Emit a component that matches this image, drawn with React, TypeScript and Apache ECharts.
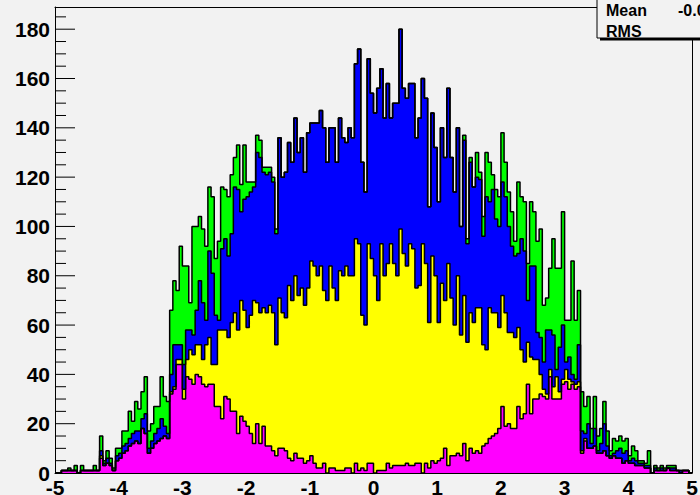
import React, { useEffect, useRef } from "react";
import * as echarts from "echarts";

// Histogram binning: 200 bins over [-5, 5]
const X_MIN = -5;
const X_MAX = 5;
const N_BINS = 200;

// Bin contents of the four stacked histograms (10 bins per row)
const magenta = [
  0, 0, 1, 1, 1, 1, 1, 0, 1, 1,
  1, 1, 1, 1, 6, 3, 4, 3, 1, 5,
  6, 8, 9, 11, 12, 13, 12, 18, 16, 8,
  10, 12, 13, 14, 15, 14, 32, 34, 44, 44,
  30, 39, 38, 36, 40, 39, 36, 35, 36, 36,
  27, 27, 22, 31, 30, 25, 25, 16, 23, 21,
  19, 16, 12, 20, 12, 19, 11, 11, 9, 7,
  10, 10, 9, 6, 5, 8, 6, 6, 4, 5,
  7, 4, 2, 2, 4, 0, 2, 2, 1, 1,
  1, 2, 2, 0, 4, 1, 2, 1, 4, 4,
  0, 1, 1, 1, 4, 2, 3, 3, 3, 3,
  4, 3, 3, 4, 4, 0, 4, 2, 5, 4,
  5, 6, 10, 3, 7, 7, 8, 7, 12, 5,
  10, 8, 9, 8, 11, 12, 14, 15, 16, 18,
  27, 19, 20, 18, 18, 27, 22, 24, 36, 24,
  30, 30, 32, 31, 30, 39, 30, 30, 30, 36,
  37, 34, 36, 34, 35, 8, 13, 10, 10, 11,
  8, 8, 9, 7, 6, 7, 6, 6, 4, 5,
  4, 4, 3, 3, 3, 2, 2, 0, 1, 1,
  1, 1, 2, 1, 1, 1, 0, 1, 1, 0,
];

const yellow = [
  0, 0, 0, 0, 0, 0, 0, 0, 0, 0,
  0, 0, 0, 0, 1, 0, 0, 0, 0, 0,
  0, 0, 0, 0, 0, 0, 0, 0, 0, 0,
  0, 0, 0, 0, 0, 0, 1, 1, 2, 2,
  4, 7, 12, 12, 12, 13, 10, 17, 19, 8,
  17, 31, 36, 27, 25, 36, 40, 42, 47, 45,
  40, 48, 58, 49, 53, 48, 54, 57, 56, 45,
  61, 55, 54, 70, 65, 72, 66, 69, 64, 70,
  79, 80, 78, 82, 70, 70, 82, 73, 69, 81,
  79, 82, 78, 80, 91, 92, 62, 59, 89, 83,
  80, 69, 92, 79, 81, 91, 82, 77, 96, 86,
  80, 90, 88, 71, 72, 93, 81, 59, 83, 76,
  56, 71, 60, 82, 64, 53, 72, 49, 60, 48,
  55, 53, 58, 59, 41, 38, 53, 50, 49, 41,
  45, 46, 37, 39, 37, 32, 28, 21, 17, 23,
  16, 16, 8, 3, 2, 3, 5, 9, 3, 2,
  5, 4, 1, 2, 2, 1, 1, 0, 0, 0,
  0, 0, 0, 0, 0, 0, 0, 0, 0, 0,
  0, 0, 0, 0, 0, 0, 0, 0, 0, 0,
  0, 0, 0, 0, 0, 0, 0, 0, 0, 0,
];

const blue = [
  0, 0, 0, 0, 0, 0, 0, 0, 0, 0,
  0, 0, 0, 0, 2, 1, 2, 1, 0, 2,
  2, 3, 3, 3, 4, 4, 5, 4, 8, 2,
  3, 4, 5, 8, 4, 2, 7, 17, 6, 6,
  10, 12, 8, 8, 14, 26, 23, 10, 35, 37,
  20, 4, 33, 37, 33, 36, 51, 57, 36, 45,
  53, 50, 46, 61, 63, 55, 56, 54, 53, 45,
  65, 55, 59, 58, 56, 64, 58, 61, 54, 63,
  56, 58, 62, 63, 66, 56, 56, 65, 56, 62,
  56, 50, 60, 56, 71, 79, 62, 54, 75, 67,
  66, 86, 71, 64, 73, 51, 65, 70, 81, 67,
  68, 65, 67, 61, 68, 67, 67, 47, 58, 52,
  49, 63, 58, 71, 57, 54, 60, 44, 63, 40,
  61, 55, 53, 52, 44, 62, 43, 50, 38, 41,
  46, 47, 43, 35, 33, 30, 45, 45, 17, 37,
  38, 11, 15, 11, 26, 16, 21, 3, 18, 22,
  3, 9, 3, 2, 15, 8, 2, 10, 2, 7,
  1, 4, 11, 4, 1, 1, 3, 4, 4, 4,
  1, 2, 2, 1, 1, 1, 1, 0, 1, 0,
  1, 0, 0, 1, 1, 0, 1, 0, 0, 0,
];

const green = [
  0, 0, 0, 0, 1, 0, 2, 0, 2, 0,
  0, 0, 2, 0, 6, 1, 3, 2, 1, 3,
  2, 6, 5, 11, 5, 12, 9, 11, 15, 7,
  7, 11, 9, 17, 12, 13, 26, 26, 22, 40,
  40, 26, 11, 44, 34, 26, 30, 30, 26, 31,
  23, 32, 25, 20, 24, 24, 12, 18, 11, 22,
  6, 4, 2, 7, 7, 2, 3, 2, 2, 2,
  0, 0, 0, 0, 0, 0, 0, 0, 0, 0,
  0, 0, 0, 0, 0, 0, 0, 0, 0, 0,
  0, 0, 0, 0, 0, 0, 0, 0, 0, 0,
  0, 0, 0, 0, 0, 0, 0, 0, 0, 0,
  0, 0, 0, 0, 0, 0, 0, 0, 0, 0,
  0, 0, 0, 0, 0, 0, 0, 0, 2, 2,
  2, 0, 10, 3, 8, 18, 16, 6, 12, 12,
  20, 14, 14, 14, 6, 29, 17, 20, 15, 26,
  22, 37, 44, 23, 13, 25, 39, 41, 32, 46,
  17, 15, 46, 24, 22, 16, 11, 11, 6, 13,
  6, 6, 9, 6, 2, 6, 4, 5, 5, 5,
  2, 5, 4, 1, 1, 1, 6, 0, 1, 1,
  1, 1, 1, 1, 1, 0, 0, 0, 0, 0,
];

// Stack order (bottom to top) and fill colours
const histograms = [magenta, yellow, blue, green];
const fillColors = ["#ff00ff", "#ffff00", "#0000ff", "#00ff00"];

// Y axis: range, labelled step and minor step
const Y_MAX = 189;
const Y_MAJOR = 20;
const Y_MINOR = 5;
const Y_LAST_LABEL = 180;

// Stats box entries
const statNames = ["Mean", "RMS"];
const meanText = "-0.01165";

const FONT = "'Liberation Sans', Arial, Helvetica, sans-serif";
const MAJOR_TICK_LEN = 20;
const MINOR_TICK_LEN = 11;

export default function App() {
  const ref = useRef<HTMLDivElement>(null);

  useEffect(() => {
    if (!ref.current) return;
    const chart = echarts.init(ref.current, undefined, { renderer: "svg" });

    const binWidth = (X_MAX - X_MIN) / N_BINS;

    // cumulative sums, as a THStack draws them
    const cumulative: number[][] = [];
    let running = new Array(N_BINS).fill(0);
    histograms.forEach((h) => {
      running = running.map((v, i) => v + h[i]);
      cumulative.push(running);
    });

    // one point per lower bin edge, plus the upper edge of the last bin
    const toSteps = (vals: number[]) => {
      const pts = vals.map((v, i) => [X_MIN + i * binWidth, v]);
      pts.push([X_MAX, vals[N_BINS - 1]]);
      return pts;
    };

    // largest sum first, each smaller sum painted over it
    const histSeries = [3, 2, 1, 0].map((k) => ({
      type: "line",
      step: "end",
      data: toSteps(cumulative[k]),
      symbol: "none",
      showSymbol: false,
      silent: true,
      lineStyle: { color: "#000", width: 1.5 },
      areaStyle: { color: fillColors[k], opacity: 1 },
      z: 2,
    }));

    // inward y-axis tick marks (major every 20, minor every 5)
    const tickData: number[][] = [];
    for (let v = 0; v <= Y_MAX; v += Y_MINOR) {
      tickData.push([X_MIN, v, v % Y_MAJOR === 0 ? MAJOR_TICK_LEN : MINOR_TICK_LEN]);
    }
    const tickSeries = {
      type: "custom",
      silent: true,
      z: 1,
      clip: false,
      data: tickData,
      renderItem: (_params: any, api: any) => {
        const p = api.coord([api.value(0), api.value(1)]);
        const len = api.value(2);
        return {
          type: "line",
          shape: { x1: p[0], y1: p[1], x2: p[0] + len, y2: p[1] },
          style: { stroke: "#000", lineWidth: 1 },
        };
      },
    };

    const labelStyle = {
      color: "#000",
      fontFamily: FONT,
      fontWeight: "bold",
      fontSize: 21,
    };
    const frameLine = { show: true, onZero: false, lineStyle: { color: "#000", width: 1 } };

    chart.setOption({
      animation: false,
      backgroundColor: "#f2f2f2",
      grid: {
        left: 55,
        right: 8,
        top: 7,
        bottom: 22,
        show: false,
        containLabel: false,
        outerBoundsMode: "none",
      },
      xAxis: [
        {
          type: "value",
          position: "bottom",
          min: X_MIN,
          max: X_MAX,
          interval: 1,
          z: 5,
          axisLine: frameLine,
          axisTick: { show: false },
          splitLine: { show: false },
          axisLabel: { ...labelStyle, margin: 4 },
        },
        {
          type: "value",
          position: "top",
          min: X_MIN,
          max: X_MAX,
          interval: 1,
          axisLine: frameLine,
          axisTick: { show: false },
          splitLine: { show: false },
          axisLabel: { show: false },
        },
      ],
      yAxis: [
        {
          type: "value",
          position: "left",
          min: 0,
          max: Y_MAX,
          interval: Y_MAJOR,
          axisLine: frameLine,
          axisTick: { show: false },
          splitLine: { show: false },
          axisLabel: {
            ...labelStyle,
            margin: 5,
            formatter: (v: number) => (v > Y_LAST_LABEL ? "" : String(v)),
          },
        },
        {
          type: "value",
          position: "right",
          min: 0,
          max: Y_MAX,
          axisLine: frameLine,
          axisTick: { show: false },
          splitLine: { show: false },
          axisLabel: { show: false },
        },
      ],
      series: [tickSeries, ...histSeries],
      graphic: [
        {
          type: "rect",
          z: 100,
          shape: { x: 600, y: -10, width: 200, height: 50.5 },
          style: { fill: "#000" },
        },
        {
          type: "rect",
          z: 101,
          shape: { x: 597, y: -10, width: 200, height: 48 },
          style: { fill: "#f2f2f2", stroke: "#000", lineWidth: 1 },
        },
        ...statNames.map((name, i) => ({
          type: "text",
          z: 102,
          x: 606,
          y: 10.5 + i * 21,
          style: {
            text: name,
            fill: "#000",
            font: `bold 16px ${FONT}`,
            textAlign: "left",
            textVerticalAlign: "middle",
          },
        })),
        {
          type: "text",
          z: 102,
          x: 678,
          y: 10.5,
          style: {
            text: meanText,
            fill: "#000",
            font: `bold 16px ${FONT}`,
            textAlign: "left",
            textVerticalAlign: "middle",
          },
        },
      ],
    });

    return () => chart.dispose();
  }, []);

  return (
    <div
      ref={ref}
      style={{
        position: "fixed",
        left: 0,
        top: 0,
        width: 700,
        height: 495,
        background: "#f2f2f2",
      }}
    />
  );
}
